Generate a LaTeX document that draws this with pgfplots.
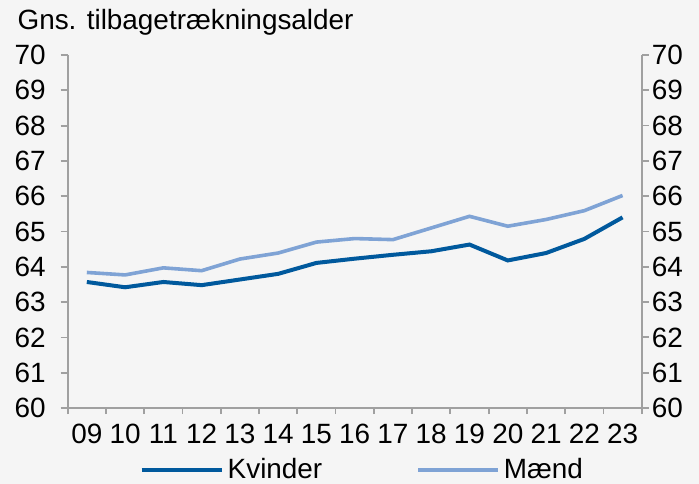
\documentclass[border=0pt]{standalone}
\usepackage{pgfplots}
\pgfplotsset{compat=1.18}
\usepackage{fontspec}
\setmainfont{Liberation Sans}

\definecolor{bg}{HTML}{F5F5F5}
\definecolor{axgray}{HTML}{A0A0A0}
\definecolor{kvinder}{HTML}{00599D}
\definecolor{maend}{HTML}{7FA3D5}

\pgfplotsset{
  base/.style={
    width=287bp, height=176.5bp, scale only axis,
    at={(0,0)}, anchor=south west,
    xmin=-0.5, xmax=14.5, ymin=60, ymax=70,
    ytick={60,...,70},
    axis line style={axgray, line width=0.9bp},
    tick style={axgray, line width=0.9bp},
    tick align=outside,
    major tick length=3.5bp, minor tick length=3bp,
    ticklabel style={font=\fontsize{14}{16}\selectfont},
    /pgf/number format/assume math mode=true,
  },
}

\pgfplotstableread{
x kvinder maend
0  63.57 63.84
1  63.42 63.77
2  63.57 63.97
3  63.48 63.89
4  63.64 64.22
5  63.80 64.39
6  64.11 64.70
7  64.23 64.80
8  64.34 64.77
9  64.44 65.10
10 64.63 65.43
11 64.18 65.15
12 64.39 65.34
13 64.79 65.59
14 65.40 66.02
}\alder

\begin{document}
\begin{tikzpicture}
\fill[bg] (-33.85bp,-38bp) rectangle (315.65bp,204bp);
\useasboundingbox (-33.85bp,-38bp) rectangle (315.65bp,204bp);

\begin{axis}[base,
  clip mode=individual,
  axis x line*=bottom, axis y line*=left,
  xtick={0,...,14},
  xticklabels={09,10,11,12,13,14,15,16,17,18,19,20,21,22,23},
  major x tick style={draw=none},
  minor xtick={-0.5,0.5,...,14.5},
  xticklabel style={yshift=-1bp},
  yticklabel style={xshift=-4bp},
  legend style={at={(axis description cs:0.515,-0.175)}, anchor=center,
    draw=none, fill=none, font=\fontsize{14}{16}\selectfont,
    legend columns=2,
    /tikz/every even column/.append style={column sep=45bp}},
  legend image code/.code={\draw[#1] (0bp,0bp) -- (40bp,0bp);},
]
\addplot[kvinder, line width=2bp] table[x=x, y=kvinder] {\alder};
\addlegendentry{Kvinder}
\addplot[maend, line width=1.8bp] table[x=x, y=maend] {\alder};
\addlegendentry{Mænd}
\node[anchor=west, inner sep=0pt, font=\fontsize{14}{16}\selectfont] at (axis description cs:-0.088,1.094) {Gns. tilbagetrækningsalder};
\end{axis}

\begin{axis}[base,
  axis y line*=right, axis x line=none,
  xtick=\empty,
  yticklabel style={xshift=-2bp},
]
\end{axis}
\end{tikzpicture}
\end{document}
